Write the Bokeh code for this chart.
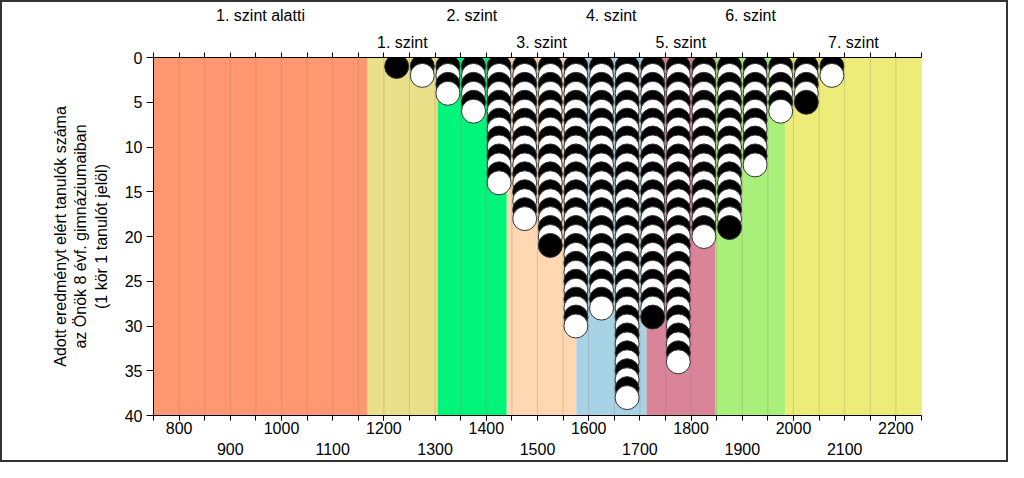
from bokeh.plotting import figure
from bokeh.models import Range1d, LinearAxis, FixedTicker, ColumnDataSource
from bokeh.embed import file_html
from bokeh.resources import INLINE

# ---- data -------------------------------------------------------------
levels = ["1. szint alatti", "1. szint", "2. szint", "3. szint",
          "4. szint", "5. szint", "6. szint", "7. szint"]
level_edges = [750, 1168, 1305, 1440, 1576, 1713, 1848, 1984, 2250]
level_colors = ["#FF9870", "#EAE08A", "#00F57A", "#FFD7B0",
                "#A8D2E6", "#DA8499", "#A8F07A", "#EDEC78"]

bin_centers = [1225, 1275, 1325, 1375, 1425, 1475, 1525, 1575, 1625,
               1675, 1725, 1775, 1825, 1875, 1925, 1975, 2025, 2075]
counts = [1, 2, 4, 6, 14, 18, 21, 30, 28, 38, 29, 34, 20, 19, 12, 6, 5, 2]

x_labels_row1 = [800, 1000, 1200, 1400, 1600, 1800, 2000, 2200]
x_labels_row2 = [900, 1100, 1300, 1500, 1700, 1900, 2100]
y_ticks = [0, 5, 10, 15, 20, 25, 30, 35, 40]
x_min, x_max, x_step = 750, 2250, 50
y_max = 40

y_label = "Adott eredményt elért tanulók száma\naz Önök 8 évf. gimnáziumaiban\n(1 kör 1 tanulót jelöl)"

FONT = "Liberation Sans"
FS = "16px"
W, H = 1008, 462

# ---- derived ----------------------------------------------------------
fifties = list(range(x_min, x_max + 1, x_step))
centers = [round((level_edges[i] + level_edges[i + 1]) / 2) for i in range(len(levels))]

dot_x, dot_y, dot_c = [], [], []
for cx, n in zip(bin_centers, counts):
    for k in range(1, n + 1):
        dot_x.append(cx)
        dot_y.append(k)
        dot_c.append("black" if k % 2 == 1 else "white")

# ---- figure -----------------------------------------------------------
p = figure(width=W, height=H, output_backend="svg", toolbar_location=None,
           x_range=Range1d(x_min, x_max), y_range=Range1d(y_max, 0),
           x_axis_location=None, y_axis_location="left",
           min_border_left=153, min_border_right=87,
           min_border_top=57, min_border_bottom=47)
# thin dark frame round the whole picture, seen through a transparent border area
p.styles = {"box-shadow": "inset 0 0 0 2px #333333", "background-color": "white"}
p.outline_line_color = None
p.xgrid.visible = False
p.ygrid.visible = False
p.background_fill_color = "white"
p.border_fill_color = None

# bands
p.quad(left=level_edges[:-1], right=level_edges[1:], top=0, bottom=y_max,
       fill_color=level_colors, line_color=None)

# vertical grid lines
p.segment(x0=fifties, y0=[0] * len(fifties), x1=fifties, y1=[y_max] * len(fifties),
          line_color="#8a7e66", line_alpha=0.3, line_width=1)

# dots
src = ColumnDataSource(dict(x=dot_x, y=dot_y, c=dot_c))
p.scatter("x", "y", source=src, size=24, fill_color="c",
          line_color="#333333", line_width=1)

# y axis
ya = p.yaxis[0]
ya.ticker = FixedTicker(ticks=y_ticks)
ya.minor_tick_line_color = None
ya.major_tick_out = 7
ya.major_tick_in = 0
ya.axis_line_color = "black"
ya.major_label_text_font = FONT
ya.major_label_text_font_size = FS
ya.major_label_text_color = "black"
ya.major_label_standoff = 4
ya.axis_label = y_label
ya.axis_label_text_font = FONT
ya.axis_label_text_font_size = FS
ya.axis_label_text_font_style = "normal"
ya.axis_label_text_color = "black"
ya.axis_label_standoff = 12


def style_axis(ax):
    ax.major_label_text_font = FONT
    ax.major_label_text_font_size = FS
    ax.major_label_text_color = "black"


# bottom axis row 1 (with ticks)
b1 = LinearAxis(ticker=FixedTicker(ticks=x_labels_row1, minor_ticks=fifties))
style_axis(b1)
b1.major_tick_out = 5
b1.major_tick_in = 0
b1.minor_tick_out = 5
b1.minor_tick_in = 0
b1.minor_tick_line_color = "black"
b1.axis_line_color = "black"
b1.major_label_standoff = 1
p.add_layout(b1, "below")

# bottom axis row 2 (labels only)
b2 = LinearAxis(ticker=FixedTicker(ticks=x_labels_row2))
style_axis(b2)
b2.major_tick_line_color = None
b2.minor_tick_line_color = None
b2.axis_line_color = None
b2.major_tick_out = 0
b2.major_tick_in = 0
b2.major_label_standoff = 6
p.add_layout(b2, "below")

# top axis row 1 (ticks + odd level names)
odd_c = centers[1::2]
odd_l = levels[1::2]
t1 = LinearAxis(ticker=FixedTicker(ticks=odd_c, minor_ticks=fifties))
style_axis(t1)
t1.major_label_overrides = {c: l for c, l in zip(odd_c, odd_l)}
t1.major_tick_line_color = None
t1.major_tick_out = 5
t1.major_tick_in = 0
t1.minor_tick_out = 5
t1.minor_tick_in = 0
t1.minor_tick_line_color = "black"
t1.axis_line_color = "black"
t1.major_label_standoff = 2
p.add_layout(t1, "above")

# top axis row 2 (even level names)
even_c = centers[0::2]
even_l = levels[0::2]
t2 = LinearAxis(ticker=FixedTicker(ticks=even_c))
style_axis(t2)
t2.major_label_overrides = {c: l for c, l in zip(even_c, even_l)}
t2.major_tick_line_color = None
t2.minor_tick_line_color = None
t2.axis_line_color = None
t2.major_tick_out = 0
t2.major_tick_in = 0
t2.major_label_standoff = 7
p.add_layout(t2, "above")

open("out.html", "w").write(file_html(p, INLINE))
